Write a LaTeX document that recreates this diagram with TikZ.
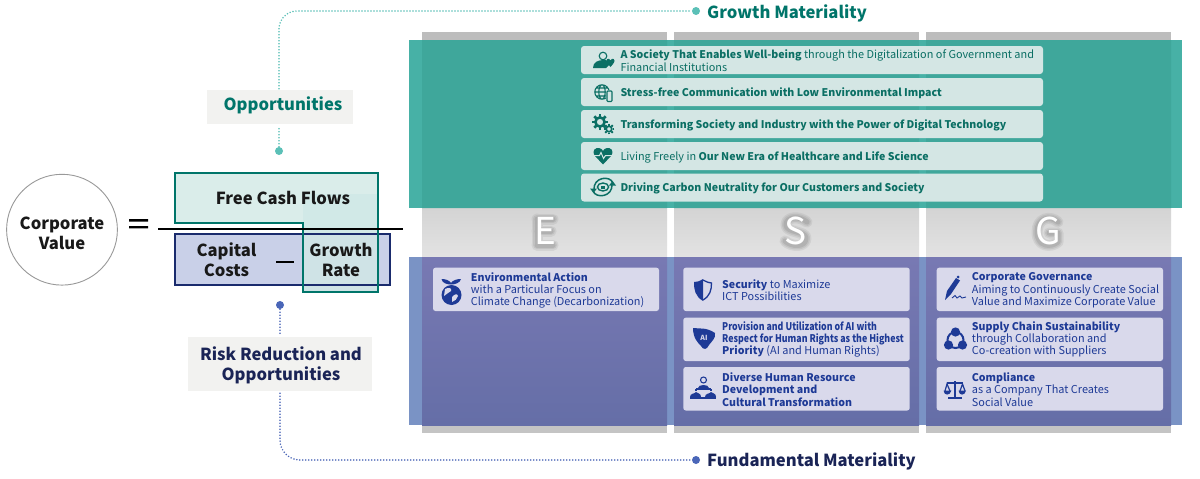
\documentclass[tikz,border=0pt]{standalone}
\usepackage{fontspec}
\usepackage{graphicx}
\setmainfont{Noto Sans CJK JP}
\usetikzlibrary{calc}
\definecolor{tealtx}{HTML}{0B6F64}
\definecolor{tealln}{HTML}{00756A}
\definecolor{teald}{HTML}{5BC0B7}
\definecolor{tealside}{HTML}{47B1A6}
\definecolor{tealcol}{HTML}{3FA79B}
\definecolor{tealcard}{HTML}{D4E6E4}
\definecolor{navytx}{HTML}{1A2456}
\definecolor{navyln}{HTML}{1A2B6D}
\definecolor{blued}{HTML}{4A66B8}
\definecolor{bluecard}{HTML}{D9D9EB}
\definecolor{bluetx}{HTML}{1E3A96}
\definecolor{boxgray}{HTML}{F2F2F0}
\definecolor{bandblue}{HTML}{7A93C5}
\definecolor{coltop}{HTML}{7879B3}
\definecolor{colbot}{HTML}{656EA7}
\definecolor{capfill}{HTML}{C9D0E8}
\definecolor{fcffill}{HTML}{DAEDEA}
\definecolor{fcfover}{HTML}{D1E9E7}
\definecolor{grfill}{HTML}{CFE3E6}
\tikzset{
 x=1pt,y=-1pt,
 tcard/.style={fill=tealcard,rounded corners=3pt,draw=none},
 bcard/.style={fill=bluecard,rounded corners=2.5pt,draw=none},
 ttxt/.style={anchor=west,inner sep=0pt,align=left,text=tealtx,font=\fontsize{10.9}{12.6}\selectfont},
 btxt/.style={anchor=west,inner sep=0pt,align=left,text=bluetx,font=\fontsize{10.9}{12.3}\selectfont},
 labbox/.style={fill=boxgray,inner sep=0pt},
 lab/.style={inner sep=0pt,align=center,font=\fontsize{16.6}{20}\selectfont\bfseries},
 frtx/.style={inner sep=0pt,align=center,text=black!90,font=\fontsize{16.6}{20}\selectfont\bfseries},
 esg/.style={inner sep=0pt,text=white,font=\fontsize{37}{37}\selectfont},
 tdot/.style={circle,fill=teald,minimum size=8pt,inner sep=0pt},
 bdot/.style={circle,fill=blued,minimum size=8pt,inner sep=0pt},
 tline/.style={draw=teald,line width=1.7pt,line cap=round,dash pattern=on 0pt off 3pt},
 bline/.style={draw=blued,line width=1.7pt,line cap=round,dash pattern=on 0pt off 3pt},
 tic/.style={fill=tealtx,draw=none},
 bic/.style={fill=bluetx,draw=none},
}
\newcommand{\halo}[1]{\foreach \w/\o in {11/.12,8/.15,5/.2}{\draw[line width=\w pt,opacity=\o,color=black!55,line cap=round,line join=round] #1;}}
\newcommand{\mybold}[1]{{\fontsize{10.6}{12.3}\selectfont\bfseries #1}}
\begin{document}
\begin{tikzpicture}
\useasboundingbox (0,0) rectangle (1200,479);
\fill[white] (0,0) rectangle (1200,479);
% gray columns
\foreach \a/\b in {422/667,674/919,926/1171}{
 \fill[black!26] (\a,32) rectangle (\b,40);
 \shade[top color=black!17,bottom color=black!11] (\a,208) rectangle (\b,257);
 \fill[black!23] (\a,425) rectangle (\b,433);
}
% bands
\fill[tealside] (409,40) rectangle (1182,208);
\fill[tealcol] (422,40) rectangle (667,208) (674,40) rectangle (919,208) (926,40) rectangle (1171,208);
\fill[bandblue] (409,257) rectangle (1182,425);
\foreach \a/\b in {422/667,674/919,926/1171}{
 \shade[top color=coltop,bottom color=colbot] (\a,257) rectangle (\b,425);
}
% ESG letters
\halo{(537,219)--(537,245) (537,219)--(553,219) (537,231)--(551,231) (537,245)--(553,245)}
\halo{(807,222) .. controls (800,216) and (786,216) .. (786,225) .. controls (786,233) and (806,231) .. (806,238) .. controls (806,248) and (791,247) .. (785,241)}
\halo{(1058,222) .. controls (1050,215) and (1037,218) .. (1037,232) .. controls (1037,247) and (1051,248) .. (1058,242) -- (1058,233) -- (1049,233)}
\node[esg] (letE) at (545,231) {E};
\node[esg] (letS) at (796,231) {S};
\node[esg] (letG) at (1048,231) {G};
% teal cards
\foreach \t in {46,78,110,142,173.5}{\fill[tcard] (581,\t) rectangle (1043,\t+28);}
\node[ttxt] (t1) at (620.3,60.5) {\mybold{A Society That Enables Well-being} through the Digitalization of Government and\\Financial Institutions};
\node[ttxt] (t2) at (620.3,93) {\mybold{Stress-free Communication with Low Environmental Impact}};
\node[ttxt] (t3) at (620.3,125) {\mybold{Transforming Society and Industry with the Power of Digital Technology}};
\node[ttxt] (t4) at (620.3,157) {Living Freely in \mybold{Our New Era of Healthcare and Life Science}};
\node[ttxt] (t5) at (620.3,188.5) {\mybold{Driving Carbon Neutrality for Our Customers and Society}};
% blue cards
\fill[bcard] (433,267.7) rectangle (659,311);
\foreach \t/\u in {267.7/311,317.7/361,367/410.5}{
 \fill[bcard] (683.3,\t) rectangle (909.7,\u);
 \fill[bcard] (936.7,\t) rectangle (1163,\u);
}
\node[btxt] (e1) at (470.7,290.5) {\mybold{Environmental Action}\\with a Particular Focus on\\Climate Change (Decarbonization)};
\node[btxt] (s1) at (722,290.5) {\mybold{Security} to Maximize\\ICT Possibilities};
\node[btxt] (s2) at (722,339.5) {\scalebox{.83}[1]{\mybold{Provision and Utilization of AI with}}\\\scalebox{.835}[1]{\mybold{Respect for Human Rights as the Highest}}\\\mybold{Priority} (AI and Human Rights)};
\node[btxt] (s3) at (722,389.5) {\mybold{Diverse Human Resource}\\\mybold{Development and}\\\mybold{Cultural Transformation}};
\node[btxt] (g1) at (971.7,290.5) {\mybold{Corporate Governance}\\Aiming to Continuously Create Social\\Value and Maximize Corporate Value};
\node[btxt] (g2) at (971.7,339.5) {\mybold{Supply Chain Sustainability}\\through Collaboration and\\Co-creation with Suppliers};
\node[btxt] (g3) at (971.7,389.5) {\mybold{Compliance}\\as a Company That Creates\\Social Value};
% teal icons
\fill[tic] (593,68) .. controls (593,62) and (598,60) .. (604,60) .. controls (608,60) and (610,62) .. (610,64) -- (606,68) -- cycle;
\draw[tealtx,line width=1.1pt] (603,56) circle (3.8);
\fill[tic] (608,64) .. controls (604,59) and (609,57) .. (610.5,60.5) .. controls (612,57) and (617,59) .. (613,64) -- (610.5,67) -- cycle;
\draw[tealtx,line width=1.1pt] (602,92) circle (7.2) (602,92) ellipse (3.2 and 7.2) (595,92)--(609,92) (596,88)--(608,88) (596,96)--(608,96);
\fill[tealcard] (606,90) rectangle (613,102);
\draw[tealtx,line width=1.1pt,rounded corners=.8pt] (607,91) rectangle (612,101.5);
\foreach \a in {0,45,...,315}{\draw[tealtx,line width=2.6pt] ($(600,122)+(\a:8)$)--($(600,122)+(\a:5)$);
 \draw[tealtx,line width=1.8pt] ($(609,129)+(\a:5.4)$)--($(609,129)+(\a:3.5)$);}
\draw[tealtx,line width=2.6pt] (600,122) circle (4.6);
\draw[tealtx,line width=1.7pt] (609,129) circle (2.8);
\fill[tic] (603,164.5) -- (595,156) .. controls (591,150) and (596,147.5) .. (599,148) .. controls (601,148.3) and (602.5,149.5) .. (603,151) .. controls (603.5,149.5) and (605,148.3) .. (607,148) .. controls (610,147.5) and (615,150) .. (611,156) -- cycle;
\draw[tealcard,line width=1pt] (594,155.5)--(599.5,155.5)--(601,152.5)--(603.5,158.5)--(605.5,155.5)--(612,155.5);
\draw[tealtx,line width=1.4pt] (603,187) ellipse (5.6 and 4);
\draw[tealtx,line width=1.5pt] (594,190) .. controls (593,177) and (610,175) .. (613,183);
\draw[tealtx,line width=1.5pt] (612,184) .. controls (613,197) and (596,199) .. (593,191);
\fill[tic] (590,188.5)--(597,188.5)--(593.5,193)--cycle (609,185.5)--(616,185.5)--(612.5,181)--cycle;
\fill[tic] (601,185.5) rectangle (605,188.5);
% blue icons
\fill[bic] (441.5,279) .. controls (445,279) and (449,280) .. (451,283) .. controls (453,280) and (457,279) .. (461,279) .. controls (460,283) and (455,284.5) .. (451,284.5) .. controls (447,284.5) and (442,283) .. (441.5,279) -- cycle;
\fill[bic] (451.5,295) circle (10);
\fill[bluecard] (445,289) .. controls (449,287) and (452,288) .. (451,291) .. controls (449,292) and (447,294) .. (444,296) -- cycle (452,297) .. controls (455,294) and (457,293) .. (458,296) .. controls (457,299) and (455,301) .. (452,302) -- cycle;
\fill[bic] (703,279) .. controls (699,281.5) and (697,282) .. (694,282) .. controls (694,290) and (695,296) .. (703,301) -- cycle;
\draw[bluetx,line width=1.3pt] (703,280) .. controls (707,282) and (709,283) .. (711.5,283) .. controls (711.5,290) and (710,296) .. (703,300);
\fill[bic] (693,328) .. controls (700,329) and (706,327) .. (715,333) .. controls (716,338) and (712,341) .. (709,345) .. controls (707,350) and (703,350) .. (701,346) .. controls (698,343) and (693,338) .. (693,328) -- cycle;
\node[inner sep=0pt,text=bluecard,font=\fontsize{7}{7}\selectfont\bfseries] (ai) at (704,338) {AI};
\draw[bluetx,line width=1.1pt] (703.5,380) circle (3);
\fill[bic] (698,388) .. controls (698,384) and (709,384) .. (709,388) -- (709,389) -- (698,389) -- cycle;
\fill[bic] (690,397) rectangle (716,398.5);
\draw[bluetx,line width=1.1pt] (696,389)--(711,389) (696,389)--(696,391) (711,389)--(711,391);
\fill[bic] (690,397) .. controls (690,393) and (695,394) .. (696,392) .. controls (698,394) and (701,393) .. (701,397) -- cycle;
\fill[bic] (705,397) .. controls (705,393) and (710,394) .. (711,392) .. controls (713,394) and (716,393) .. (716,397) -- cycle;
\fill[bic] (945,300) -- (947,291) -- (956,278) -- (960,280.5) -- (951,294) -- cycle;
\draw[bluetx,line width=.9pt] (952,298)--(955,295.5)--(957,298)--(960,296)--(962,298)--(966,297);
\fill[bic] (958,277) circle (1.5);
\draw[bluetx,line width=2pt] (955.5,340) circle (8);
\fill[bic] (955.5,332) circle (4.6) (948.5,345) circle (4.6) (962.5,345) circle (4.6);
\begin{scope}[xshift=-3pt]
\draw[bluetx,line width=1.2pt] (950,383)--(966,383) (958,381)--(958,398) (951,398)--(965,398);
\draw[bluetx,line width=1.2pt] (948,391)--(950,384)--(953,391) (963,391)--(965.5,384)--(968,391);
\fill[bic] (946.5,390.5) .. controls (947,396) and (953,396) .. (954.5,390.5) -- cycle (961.5,390.5) .. controls (962,396) and (968,396) .. (969,390.5) -- cycle;
\end{scope}
% formula
\draw[gray!80,line width=.9pt] (62,229.7) circle (55.4);
\node[inner sep=0pt,align=center,text=black!90,font=\fontsize{16.6}{20}\selectfont\bfseries] (cv) at (62,233) {Corporate\\Value};
\fill[black] (129,219.2) rectangle (148,221.6) (129,226) rectangle (148,228.4);
\fill[capfill] (175,234) rectangle (390,285);
\fill[fcffill] (175,173) -- (378,173) -- (378,292) -- (303,292) -- (303,223) -- (175,223) -- cycle;
\fill[fcfover] (303,194) rectangle (378,234);
\fill[grfill] (303,234) rectangle (378,292);
\draw[navyln,line width=1.9pt] (175,234) rectangle (390,285);
\draw[tealln,line width=2.2pt] (175,173) -- (378,173) -- (378,292) -- (303,292) -- (303,223) -- (175,223) -- cycle;
\draw[black,line width=1.3pt] (158,229) -- (403,229);
\node[frtx] (fcf) at (283,198) {Free Cash Flows};
\node[frtx] (cap) at (226.5,260) {Capital\\Costs};
\fill[black] (276,261) rectangle (294,263);
\node[frtx] (gr) at (341,260) {Growth\\Rate};
% connectors
\node[labbox,minimum width=146pt,minimum height=34pt] (opp) at (280,107) {};
\node[lab,text=tealln] (opptx) at (283,105.5) {Opportunities};
\node[labbox,minimum width=184pt,minimum height=54pt] (risk) at (280,364) {};
\node[lab,text=navytx] (risktx) at (281,365.5) {Risk Reduction and\\Opportunities};
\node[tdot] (d1) at (279,151) {};
\node[tdot] (d2) at (696,11) {};
\node[bdot] (d3) at (280,305) {};
\node[bdot] (d4) at (696,460) {};
\node[anchor=west,inner sep=0pt,text=tealln,font=\fontsize{16.6}{20}\selectfont\bfseries] (gm) at (707,13.5) {Growth Materiality};
\node[anchor=west,inner sep=0pt,text=navytx,font=\fontsize{16.6}{20}\selectfont\bfseries] (fm) at (707,461.5) {Fundamental Materiality};
\path[tline] (d1) -- ($(d1 |- opp.south)+(0,2)$);
\path[tline,rounded corners=18pt] ($(d1 |- opp.north)+(0,-1)$) -- (d1 |- d2) -- (d2);
\path[bline] (d3) -- ($(d3 |- risk.north)+(0,-1)$);
\path[bline,rounded corners=20pt] ($(d3 |- risk.south)+(0,2)$) -- (d3 |- d4) -- (d4);
\end{tikzpicture}
\end{document}
